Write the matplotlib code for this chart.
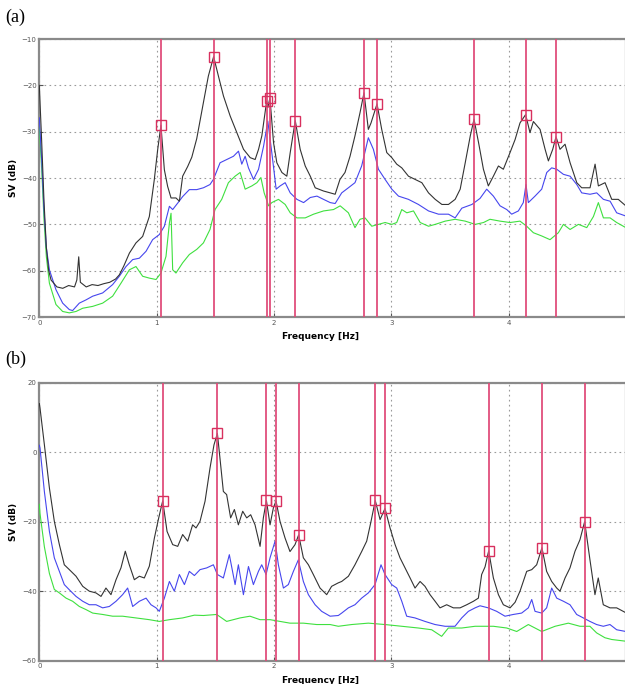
import matplotlib
matplotlib.use('Agg')
import matplotlib.pyplot as plt

# ---- panel (a) : (freq Hz, SV dB) ----
a_black = [(0, -20), (0.02, -32), (0.04, -45), (0.06, -55), (0.08, -60), (0.1, -62), (0.15, -63.5), (0.2, -63.8),
           (0.25, -63.2), (0.3, -63.5), (0.32, -62), (0.336, -57), (0.35, -62.5), (0.4, -63.5), (0.45, -63),
           (0.5, -63.2), (0.55, -62.8), (0.6, -62.5), (0.65, -61.8), (0.682, -60.9), (0.72, -59), (0.768, -56.2),
           (0.824, -54), (0.881, -52.6), (0.938, -48.3), (0.98, -40.4), (1.009, -33.9), (1.037, -28.6),
           (1.066, -38.2), (1.094, -41.8), (1.123, -44.3), (1.165, -44.3), (1.194, -45), (1.222, -39.6),
           (1.265, -37.5), (1.3, -35.5), (1.342, -31.5), (1.399, -23.7), (1.441, -18), (1.486, -13.8), (1.527, -18),
           (1.57, -22.3), (1.627, -26.6), (1.684, -30.2), (1.741, -33.8), (1.798, -35.6), (1.84, -36), (1.869, -33.8),
           (1.897, -30.9), (1.938, -23.4), (1.948, -24.8), (1.966, -22.7), (1.997, -32.4), (2.025, -36.7),
           (2.068, -38.8), (2.11, -39.6), (2.139, -34.5), (2.182, -27.6), (2.224, -33.8), (2.267, -37.4),
           (2.31, -39.6), (2.352, -42.1), (2.423, -42.8), (2.48, -43.2), (2.522, -43.5), (2.563, -40.3),
           (2.606, -38.8), (2.649, -35.3), (2.691, -30.9), (2.734, -25.9), (2.768, -21.6), (2.805, -29.5),
           (2.828, -28.1), (2.879, -24.0), (2.919, -29.5), (2.962, -34.5), (3.005, -35.6), (3.047, -37),
           (3.09, -37.8), (3.147, -39.6), (3.204, -40.3), (3.261, -41), (3.318, -43.2), (3.375, -44.6),
           (3.432, -45.7), (3.488, -45.7), (3.545, -44.6), (3.588, -42.4), (3.631, -36.7), (3.674, -30.9),
           (3.706, -27.3), (3.745, -32.4), (3.786, -38.1), (3.828, -41.7), (3.871, -39.6), (3.914, -37.4),
           (3.956, -38.1), (4.013, -34.5), (4.056, -31.7), (4.098, -28.1), (4.146, -26.3), (4.183, -30.2),
           (4.212, -27.8), (4.269, -29.5), (4.312, -33.8), (4.34, -36.3), (4.377, -33.8), (4.405, -31.1),
           (4.439, -33.8), (4.482, -32.7), (4.525, -36.7), (4.582, -41), (4.624, -42.1), (4.695, -42.1),
           (4.738, -37), (4.766, -41.7), (4.823, -41), (4.88, -44.6), (4.936, -44.6), (5.0, -46)]

a_blue = [(0, -27), (0.02, -36), (0.04, -47), (0.06, -55), (0.086, -59.8), (0.142, -64.1), (0.199, -67),
          (0.256, -68.4), (0.284, -68.6), (0.341, -67), (0.398, -66.3), (0.455, -65.5), (0.54, -64.8),
          (0.625, -63), (0.682, -61.2), (0.739, -59.1), (0.796, -57.6), (0.853, -57.3), (0.91, -55.8),
          (0.966, -53.3), (1.023, -52.2), (1.066, -50.4), (1.109, -46.1), (1.137, -46.8), (1.18, -45.4),
          (1.222, -44), (1.279, -42.5), (1.342, -42.5), (1.399, -42.1), (1.455, -41.4), (1.484, -40.3),
          (1.541, -36.7), (1.598, -36), (1.655, -35.3), (1.698, -34.2), (1.726, -37), (1.755, -35.3),
          (1.783, -37.8), (1.826, -40.3), (1.869, -38.1), (1.912, -33.1), (1.948, -27.7), (1.982, -34.5),
          (2.019, -42.4), (2.053, -41.7), (2.096, -41), (2.139, -43.2), (2.196, -44.6), (2.253, -45.3),
          (2.31, -44.2), (2.367, -43.9), (2.423, -44.6), (2.48, -45.3), (2.522, -45.5), (2.578, -43.2),
          (2.635, -42.1), (2.691, -41), (2.748, -37.4), (2.805, -31.3), (2.848, -33.8), (2.891, -38.1),
          (2.948, -40.3), (3.005, -42.4), (3.062, -43.9), (3.147, -44.6), (3.232, -45.7), (3.318, -47.1),
          (3.403, -47.8), (3.488, -47.8), (3.545, -48.6), (3.602, -46.5), (3.688, -45.7), (3.757, -44.4),
          (3.814, -42.4), (3.871, -43.9), (3.928, -46), (3.985, -46.8), (4.027, -47.8), (4.084, -47.1),
          (4.126, -45.3), (4.149, -41.4), (4.169, -45.3), (4.226, -43.9), (4.283, -42.4), (4.326, -38.8),
          (4.368, -37.8), (4.411, -38.1), (4.468, -39.2), (4.525, -39.6), (4.582, -41.4), (4.624, -43.2),
          (4.695, -43.5), (4.752, -43.2), (4.809, -44.6), (4.866, -45), (4.922, -47.5), (5.0, -48.2)]

a_green = [(0, -29), (0.02, -38), (0.04, -49), (0.06, -57), (0.086, -62.7), (0.142, -67.3), (0.199, -68.8),
           (0.256, -69.1), (0.313, -68.8), (0.37, -68.1), (0.455, -67.7), (0.54, -67), (0.625, -65.5),
           (0.696, -62.7), (0.768, -59.8), (0.824, -59.1), (0.881, -61.2), (0.938, -61.6), (0.995, -61.9),
           (1.037, -60.5), (1.08, -56.9), (1.109, -49.7), (1.123, -47.6), (1.137, -59.8), (1.165, -60.5),
           (1.222, -58.3), (1.279, -56.5), (1.342, -55.4), (1.399, -54), (1.455, -51.1), (1.498, -46.8),
           (1.555, -44.6), (1.612, -41), (1.669, -39.6), (1.712, -38.8), (1.755, -42.4), (1.812, -41.7),
           (1.855, -41), (1.889, -39.9), (1.917, -43.2), (1.955, -46), (1.982, -45.3), (2.039, -44.6),
           (2.096, -45.7), (2.139, -47.5), (2.196, -48.6), (2.267, -48.6), (2.338, -47.8), (2.423, -47.1),
           (2.508, -46.8), (2.565, -46), (2.635, -47.5), (2.691, -50.7), (2.734, -48.9), (2.777, -48.6),
           (2.834, -50.4), (2.891, -50), (2.948, -49.6), (3.005, -50), (3.047, -49.6), (3.09, -46.8),
           (3.133, -47.5), (3.19, -47.1), (3.247, -49.6), (3.318, -50.4), (3.375, -50), (3.46, -49.3),
           (3.545, -48.9), (3.631, -49.3), (3.716, -50), (3.787, -49.6), (3.842, -48.9), (3.928, -49.3),
           (4.013, -49.6), (4.098, -49.3), (4.155, -50.4), (4.212, -51.8), (4.283, -52.5), (4.354, -53.3),
           (4.425, -51.8), (4.468, -50), (4.525, -51.1), (4.596, -50), (4.667, -50.7), (4.724, -48.3),
           (4.766, -45.3), (4.809, -48.6), (4.866, -48.6), (4.922, -49.6), (5.0, -50.7)]

a_peaks = [(1.037, -28.6), (1.486, -13.8), (1.938, -23.4), (1.966, -22.7), (2.182, -27.6), (2.768, -21.6),
           (2.879, -24.0), (3.706, -27.3), (4.146, -26.3), (4.405, -31.1)]

# ---- panel (b) ----
b_black = [(0, 14), (0.006, 12.7), (0.043, 2.2), (0.086, -10.3), (0.128, -19.9), (0.171, -26.6), (0.213, -32.4),
           (0.256, -33.8), (0.313, -35.7), (0.37, -38.6), (0.426, -40), (0.483, -40.5), (0.526, -41.5),
           (0.568, -39.1), (0.611, -41), (0.654, -36.7), (0.696, -33.3), (0.733, -28.5), (0.767, -32.4),
           (0.81, -36.7), (0.853, -35.7), (0.895, -36.2), (0.938, -32.8), (0.981, -24.7), (1.018, -18.9),
           (1.052, -14.0), (1.089, -22.8), (1.137, -26.6), (1.18, -27.1), (1.222, -23.7), (1.265, -25.6),
           (1.307, -20.9), (1.336, -21.8), (1.37, -19.9), (1.413, -14.1), (1.455, -4.6), (1.489, 2.1), (1.518, 5.4),
           (1.54, -1.7), (1.569, -11.3), (1.597, -12.2), (1.631, -18.9), (1.663, -16.5), (1.697, -20.9),
           (1.734, -17), (1.768, -18.9), (1.802, -18), (1.839, -20.9), (1.882, -27.1), (1.91, -18.9),
           (1.936, -13.9), (1.967, -20.9), (1.995, -16.1), (2.018, -14.0), (2.052, -19.9), (2.095, -24.7),
           (2.137, -28.6), (2.18, -26.6), (2.211, -23.8), (2.251, -30.4), (2.294, -32.4), (2.336, -35.2),
           (2.393, -39.1), (2.45, -41), (2.492, -38.6), (2.549, -37.6), (2.578, -37.2), (2.635, -35.7),
           (2.691, -32.4), (2.748, -28.6), (2.791, -25.6), (2.828, -19.9), (2.864, -13.9), (2.905, -19.4),
           (2.947, -16.2), (2.99, -21.8), (3.033, -26.6), (3.075, -30.4), (3.118, -33.3), (3.161, -36.2),
           (3.203, -39.1), (3.246, -37.2), (3.288, -38.6), (3.331, -41), (3.374, -42.9), (3.416, -44.8),
           (3.473, -43.9), (3.53, -44.8), (3.587, -44.8), (3.644, -43.9), (3.701, -42.9), (3.743, -42),
           (3.771, -35.2), (3.8, -33), (3.831, -28.4), (3.871, -36.2), (3.914, -41), (3.956, -43.9),
           (4.013, -44.8), (4.056, -43.2), (4.098, -40), (4.155, -34.3), (4.198, -33.8), (4.24, -32.4),
           (4.285, -27.5), (4.325, -34.3), (4.368, -37.2), (4.411, -39.1), (4.439, -40), (4.482, -36.2),
           (4.524, -33.3), (4.567, -28.5), (4.609, -25.2), (4.649, -20.0), (4.694, -30.9), (4.737, -41),
           (4.765, -36.2), (4.808, -43.9), (4.865, -44.8), (4.922, -44.8), (5.0, -46.2)]

b_blue = [(0, 2), (0.006, 1.2), (0.043, -11.3), (0.086, -22.8), (0.128, -30.4), (0.171, -34.3), (0.213, -38.1),
          (0.256, -39.6), (0.313, -41.5), (0.37, -42.9), (0.426, -43.9), (0.483, -43.9), (0.54, -44.8),
          (0.597, -44.4), (0.654, -42.9), (0.71, -41), (0.753, -39.1), (0.796, -44.4), (0.853, -42.9),
          (0.91, -42), (0.952, -43.9), (0.995, -44.8), (1.023, -45.8), (1.066, -42), (1.109, -37.2),
          (1.151, -40), (1.194, -35.2), (1.237, -38.1), (1.279, -34.3), (1.322, -35.5), (1.37, -33.8),
          (1.427, -33.3), (1.484, -32.4), (1.518, -35.2), (1.569, -36.2), (1.62, -29.5), (1.669, -38.1),
          (1.697, -32.4), (1.74, -41), (1.783, -32.9), (1.825, -38.1), (1.868, -34.3), (1.896, -32.4),
          (1.933, -35.2), (1.967, -30.4), (2.01, -25.6), (2.038, -32.4), (2.081, -39.1), (2.123, -38.1),
          (2.166, -34.3), (2.208, -31), (2.251, -37.2), (2.294, -41), (2.351, -43.9), (2.407, -45.8),
          (2.479, -47.2), (2.549, -47), (2.578, -46.3), (2.635, -44.8), (2.691, -43.9), (2.748, -42),
          (2.805, -40.5), (2.862, -38.1), (2.913, -32.4), (2.947, -35.2), (3.004, -38.1), (3.047, -39.1),
          (3.09, -42.9), (3.132, -47.2), (3.203, -47.7), (3.288, -48.7), (3.374, -49.6), (3.459, -50.1),
          (3.544, -50.1), (3.601, -47.7), (3.658, -45.8), (3.715, -44.8), (3.757, -44.2), (3.828, -44.8),
          (3.899, -45.8), (3.97, -47.2), (4.041, -46.7), (4.112, -46.3), (4.169, -44.8), (4.198, -42.4),
          (4.226, -45.8), (4.283, -46.3), (4.325, -44.8), (4.368, -39.1), (4.411, -42), (4.468, -42.9),
          (4.524, -43.9), (4.581, -46.7), (4.638, -47.7), (4.694, -48.7), (4.751, -49.6), (4.808, -50.1),
          (4.865, -49.6), (4.922, -51.1), (5.0, -51.6)]

b_green = [(0, -15), (0.006, -17.7), (0.043, -27.2), (0.086, -34.9), (0.128, -39.5), (0.171, -40.5),
           (0.228, -42), (0.284, -42.9), (0.341, -44.4), (0.398, -45.3), (0.455, -46.3), (0.54, -46.7),
           (0.625, -47.2), (0.71, -47.2), (0.824, -47.7), (0.938, -48.2), (1.023, -48.7), (1.109, -48.2),
           (1.222, -47.7), (1.322, -46.9), (1.399, -47), (1.512, -46.7), (1.597, -48.7), (1.711, -47.7),
           (1.796, -47.2), (1.882, -48.2), (1.967, -48.2), (2.052, -48.7), (2.137, -49.2), (2.251, -49.2),
           (2.365, -49.6), (2.479, -49.6), (2.549, -50.1), (2.663, -49.6), (2.805, -49.2), (2.947, -49.6),
           (3.09, -50.1), (3.232, -50.6), (3.345, -51.1), (3.43, -53), (3.487, -50.6), (3.601, -50.6),
           (3.715, -50.1), (3.871, -50.1), (3.985, -50.6), (4.07, -51.6), (4.169, -49.6), (4.283, -51.6),
           (4.397, -50.1), (4.51, -49.2), (4.609, -50.1), (4.694, -50.1), (4.751, -52), (4.822, -53.4),
           (4.879, -53.9), (5.0, -54.4)]

b_peaks = [(1.052, -14.0), (1.518, 5.4), (1.936, -13.9), (2.018, -14.0), (2.211, -23.8), (2.864, -13.9),
           (2.947, -16.2), (3.831, -28.4), (4.285, -27.5), (4.649, -20.0)]

a_yticks = [-10, -20, -30, -40, -50, -60, -70]
b_yticks = [20, 0, -20, -40, -60]
x_ticks = [0, 1, 2, 3, 4]

RED = '#e04a78'
SQ = '#d8305e'


def draw_panel(ax, black, blue, green, peaks, ylim, yticks):
	for data, col in [(green, '#3fe03f'), (blue, '#4646ee'), (black, '#333333')]:
		f, v = zip(*data)
		ax.plot(f, v, color=col, lw=0.8, zorder=3)
	pf, pv = zip(*peaks)
	for x in pf:
		ax.axvline(x, color=RED, lw=1.4, alpha=0.9, zorder=4)
	ax.plot(pf, pv, 's', ms=7, mfc='none', mec=SQ, mew=1.0, zorder=5)
	ax.set_xlim(0, 5)
	ax.set_ylim(*ylim)
	ax.set_xticks(x_ticks)
	ax.set_yticks(yticks)
	ax.grid(True, ls=(0, (1.5, 3)), color='#9a9a9a', lw=0.8)
	ax.tick_params(direction='in', length=3, labelsize=5, colors='#555555', pad=2)
	for s in ax.spines.values():
		s.set_color('#8a8a8a')
		s.set_linewidth(1.6)
	ax.text(0.48, -0.07, 'Frequency [Hz]', transform=ax.transAxes, ha='center', va='center',
	        fontsize=6.5, fontweight='bold')
	ax.text(-0.044, 0.5, 'SV (dB)', transform=ax.transAxes, ha='center', va='center',
	        rotation=90, fontsize=6.5, fontweight='bold')


fig = plt.figure(figsize=(6.25, 6.84), dpi=100)
ax1 = fig.add_axes([0.0629, 0.5365, 0.9384, 0.4064])
ax2 = fig.add_axes([0.0629, 0.0341, 0.9384, 0.4064])

draw_panel(ax1, a_black, a_blue, a_green, a_peaks, (-70, -10), a_yticks)
draw_panel(ax2, b_black, b_blue, b_green, b_peaks, (-60, 20), b_yticks)

fig.text(0.008, 0.975, '(a)', fontsize=13, family='Liberation Serif', va='center')
fig.text(0.008, 0.475, '(b)', fontsize=13, family='Liberation Serif', va='center')

fig.savefig('out.png', dpi=100)
